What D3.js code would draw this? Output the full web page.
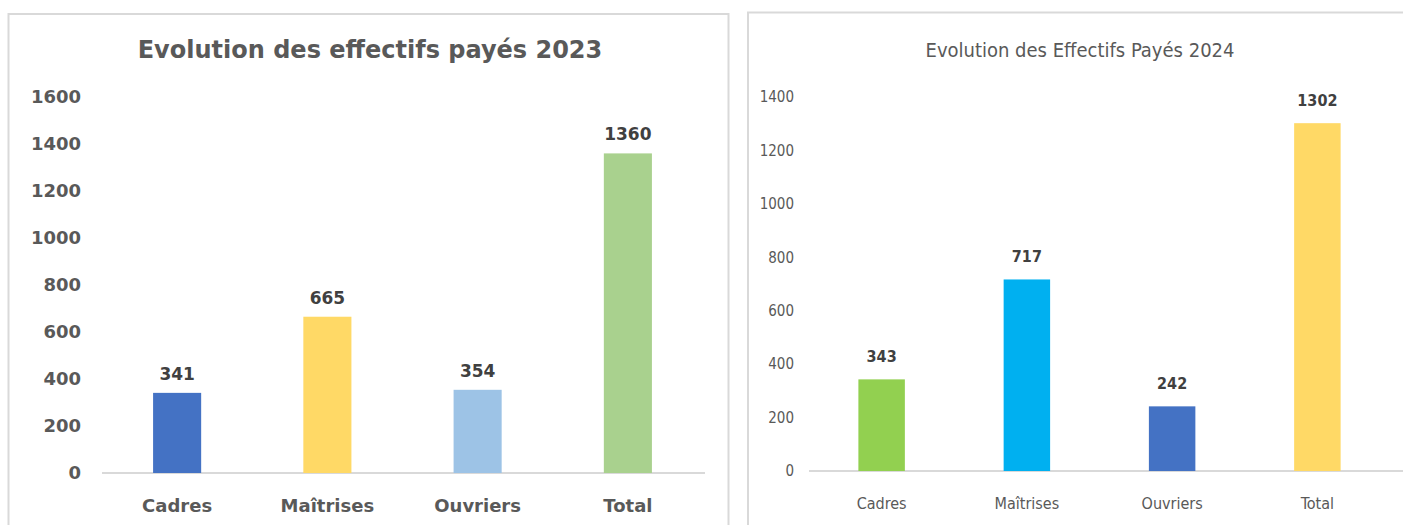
<!DOCTYPE html>
<html>
<head>
<meta charset="utf-8">
<script src="https://cdn.jsdelivr.net/npm/d3@7"></script>
<style>
  body { margin: 0; background: #fff; }
</style>
</head>
<body>
<div id="chart"></div>
<script>
const categories = ["Cadres", "Maîtrises", "Ouvriers", "Total"];
const values2023 = [341, 665, 354, 1360];
const values2024 = [343, 717, 242, 1302];
const colors2023 = ["#4472C4", "#FFD966", "#9DC3E6", "#A9D18E"];
const colors2024 = ["#92D050", "#00B0F0", "#4472C4", "#FFD966"];
const ticks2023 = [0, 200, 400, 600, 800, 1000, 1200, 1400, 1600];
const ticks2024 = [0, 200, 400, 600, 800, 1000, 1200, 1400];

const svg = d3.select("#chart").append("svg")
    .attr("width", 1403)
    .attr("height", 525);

// panel frames
svg.append("rect").attr("x", 8.5).attr("y", 14).attr("width", 720).attr("height", 530)
    .attr("fill", "#fff").attr("stroke", "#d9d9d9").attr("stroke-width", 2);
svg.append("rect").attr("x", 748).attr("y", 12.5).attr("width", 700).attr("height", 530)
    .attr("fill", "#fff").attr("stroke", "#d9d9d9").attr("stroke-width", 2);

function drawChart(opt) {
    const g = svg.append("g");

    const x = d3.scaleBand()
        .domain(categories)
        .range([opt.left, opt.right])
        .paddingInner(0.68)
        .paddingOuter(0.34);

    const y = d3.scaleLinear()
        .domain([0, opt.max])
        .range([opt.bottom, opt.top]);

    g.append("text")
        .attr("x", opt.titleX)
        .attr("y", opt.titleY)
        .attr("text-anchor", "middle")
        .attr("font-family", opt.font)
        .attr("font-weight", opt.titleWeight)
        .attr("font-size", opt.titleSize)
        .attr("fill", "#595959")
        .text(opt.title);

    // y axis labels only
    const yAxis = d3.axisLeft(y).tickValues(opt.ticks).tickFormat(d3.format("d"))
        .tickSize(0).tickPadding(0);
    const ya = g.append("g")
        .attr("transform", `translate(${opt.tickX},0)`)
        .call(yAxis);
    ya.select(".domain").remove();
    ya.selectAll("text")
        .attr("font-family", opt.font)
        .attr("font-weight", opt.tickWeight)
        .attr("font-size", opt.tickSize)
        .attr("fill", "#595959");

    // baseline
    g.append("line")
        .attr("x1", opt.left).attr("x2", opt.lineEnd)
        .attr("y1", y(0)).attr("y2", y(0))
        .attr("stroke", "#d9d9d9").attr("stroke-width", 2);

    g.selectAll(".bar")
        .data(opt.values)
        .enter().append("rect")
        .attr("class", "bar")
        .attr("x", (d, i) => x(categories[i]))
        .attr("y", d => y(d))
        .attr("width", x.bandwidth())
        .attr("height", d => y(0) - y(d))
        .attr("fill", (d, i) => opt.colors[i]);

    g.selectAll(".val")
        .data(opt.values)
        .enter().append("text")
        .attr("class", "val")
        .attr("x", (d, i) => x(categories[i]) + x.bandwidth() / 2)
        .attr("y", d => y(d) - opt.valGap)
        .attr("text-anchor", "middle")
        .attr("font-family", opt.font)
        .attr("font-weight", "bold")
        .attr("font-size", opt.valSize)
        .attr("fill", "#404040")
        .text(d => d);

    g.selectAll(".cat")
        .data(categories)
        .enter().append("text")
        .attr("class", "cat")
        .attr("x", d => x(d) + x.bandwidth() / 2)
        .attr("y", opt.catY)
        .attr("text-anchor", "middle")
        .attr("font-family", opt.font)
        .attr("font-weight", opt.catWeight)
        .attr("font-size", opt.catSize)
        .attr("fill", "#595959")
        .text(d => d);
}

drawChart({
    title: "Evolution des effectifs payés 2023",
    values: values2023, colors: colors2023, ticks: ticks2023, max: 1600,
    left: 102, right: 703, lineEnd: 705, top: 97, bottom: 473,
    tickX: 81, titleX: 370, titleY: 58,
    font: "'DejaVu Sans', sans-serif", titleWeight: "bold", titleSize: 24,
    tickWeight: "bold", tickSize: 18, valSize: 17, valGap: 13,
    catWeight: "bold", catSize: 18, catY: 512
});

drawChart({
    title: "Evolution des Effectifs Payés 2024",
    values: values2024, colors: colors2024, ticks: ticks2024, max: 1400,
    left: 809, right: 1390, lineEnd: 1403, top: 97, bottom: 471,
    tickX: 794, titleX: 1080, titleY: 57,
    font: "'DejaVu Sans Condensed', sans-serif", titleWeight: "normal", titleSize: 20,
    tickWeight: "normal", tickSize: 15, valSize: 16, valGap: 17,
    catWeight: "normal", catSize: 16, catY: 509
});
</script>
</body>
</html>
